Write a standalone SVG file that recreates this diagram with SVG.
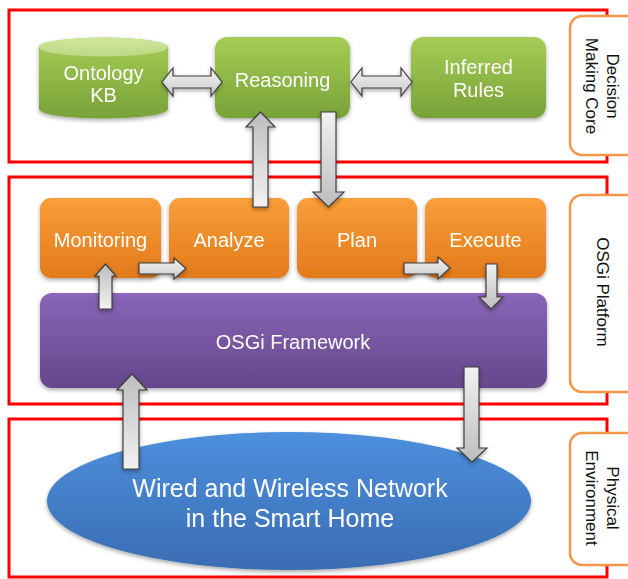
<svg xmlns="http://www.w3.org/2000/svg" width="628" height="579" viewBox="0 0 628 579">
  <style>
    .layer { fill: none; stroke: #ff0000; stroke-width: 3; }
    .tag { fill: #ffffff; stroke: #f79646; stroke-width: 2.5; }
    .tagtext { font-family: "Liberation Sans", Arial, sans-serif; font-size: 17px; fill: #111111; text-anchor: middle; }
    .lbl { font-family: "Liberation Sans", Arial, sans-serif; font-size: 20px; fill: #ffffff; text-anchor: middle; }
    .big { font-family: "Liberation Sans", Arial, sans-serif; font-size: 25px; fill: #ffffff; text-anchor: middle; }
    .arrow { stroke: #3f3f3f; stroke-width: 1.2; stroke-linejoin: miter; }
  </style>
  <defs>
    <linearGradient id="gGreen" x1="0" y1="0" x2="0" y2="1">
      <stop offset="0" stop-color="#a6cd55"/>
      <stop offset="1" stop-color="#78a238"/>
    </linearGradient>
    <linearGradient id="gGreenTop" x1="0" y1="0" x2="0" y2="1">
      <stop offset="0" stop-color="#cfe69c"/>
      <stop offset="1" stop-color="#bcd985"/>
    </linearGradient>
    <linearGradient id="gOrange" x1="0" y1="0" x2="0" y2="1">
      <stop offset="0" stop-color="#fa9e38"/>
      <stop offset="1" stop-color="#e27a1c"/>
    </linearGradient>
    <linearGradient id="gPurple" x1="0" y1="0" x2="0" y2="1">
      <stop offset="0" stop-color="#8e69bd"/>
      <stop offset="0.05" stop-color="#8763b5"/>
      <stop offset="1" stop-color="#65488c"/>
    </linearGradient>
    <linearGradient id="gBlue" x1="0" y1="0" x2="0" y2="1">
      <stop offset="0" stop-color="#4d90de"/>
      <stop offset="1" stop-color="#3a6cb2"/>
    </linearGradient>
    <linearGradient id="gUp" x1="0" y1="1" x2="0" y2="0">
      <stop offset="0" stop-color="#f2f2f2"/>
      <stop offset="1" stop-color="#bdbdbd"/>
    </linearGradient>
    <linearGradient id="gDown" x1="0" y1="0" x2="0" y2="1">
      <stop offset="0" stop-color="#f2f2f2"/>
      <stop offset="1" stop-color="#bdbdbd"/>
    </linearGradient>
    <linearGradient id="gRight" x1="0" y1="0" x2="0" y2="1">
      <stop offset="0" stop-color="#f4f4f4"/>
      <stop offset="1" stop-color="#c8c8c8"/>
    </linearGradient>
    <filter id="shadow" x="-10%" y="-10%" width="120%" height="130%">
      <feGaussianBlur in="SourceAlpha" stdDeviation="2"/>
      <feOffset dy="2" result="b"/>
      <feComponentTransfer><feFuncA type="linear" slope="0.35"/></feComponentTransfer>
      <feMerge><feMergeNode/><feMergeNode in="SourceGraphic"/></feMerge>
    </filter>
  </defs>

  <rect width="628" height="579" fill="#ffffff"/>

  <!-- layer frames -->
  <g id="layers">
    <rect class="layer" x="9" y="10" width="598" height="152"/>
    <rect class="layer" x="9" y="177" width="598" height="227"/>
    <rect class="layer" x="9" y="419" width="598" height="158"/>
  </g>

  <!-- layer tags -->
  <g id="tag-decision">
    <rect class="tag" x="570" y="16" width="80" height="139" rx="12"/>
    <text class="tagtext" transform="translate(602,86) rotate(90)"><tspan x="0" y="-5">Decision</tspan><tspan x="0" y="16">Making Core</tspan></text>
  </g>
  <g id="tag-osgi">
    <rect class="tag" x="570" y="195" width="80" height="197" rx="12"/>
    <text class="tagtext" transform="translate(602,292) rotate(90)" x="0" y="5">OSGi Platform</text>
  </g>
  <g id="tag-physical">
    <rect class="tag" x="570" y="433" width="80" height="132" rx="12"/>
    <text class="tagtext" transform="translate(602,498) rotate(90)"><tspan x="0" y="-5">Physical</tspan><tspan x="0" y="16">Environment</tspan></text>
  </g>

  <!-- decision making core -->
  <g id="ontology-kb" filter="url(#shadow)">
    <path d="M39,47 L39,109 A64.5,9.5 0 0 0 168,109 L168,47 A64.5,9.5 0 0 0 39,47 Z" fill="url(#gGreen)"/>
    <ellipse cx="103.5" cy="47" rx="64.5" ry="9.5" fill="url(#gGreenTop)"/>
    <text class="lbl" x="103.5" y="80">Ontology</text>
    <text class="lbl" x="103.5" y="102">KB</text>
  </g>
  <g id="reasoning" filter="url(#shadow)">
    <rect x="215" y="37" width="135" height="81" rx="12" fill="url(#gGreen)"/>
    <text class="lbl" x="282.5" y="87">Reasoning</text>
  </g>
  <g id="inferred-rules" filter="url(#shadow)">
    <rect x="411" y="37" width="135" height="81" rx="12" fill="url(#gGreen)"/>
    <text class="lbl" x="478.5" y="74">Inferred</text>
    <text class="lbl" x="478.5" y="97">Rules</text>
  </g>

  <!-- MAPE loop -->
  <g id="monitoring" filter="url(#shadow)">
    <rect x="40" y="198" width="121" height="80" rx="11" fill="url(#gOrange)"/>
    <text class="lbl" x="100.5" y="247">Monitoring</text>
  </g>
  <g id="analyze" filter="url(#shadow)">
    <rect x="169" y="198" width="120" height="80" rx="11" fill="url(#gOrange)"/>
    <text class="lbl" x="229" y="247">Analyze</text>
  </g>
  <g id="plan" filter="url(#shadow)">
    <rect x="297" y="198" width="120" height="80" rx="11" fill="url(#gOrange)"/>
    <text class="lbl" x="357" y="247">Plan</text>
  </g>
  <g id="execute" filter="url(#shadow)">
    <rect x="425" y="198" width="121" height="80" rx="11" fill="url(#gOrange)"/>
    <text class="lbl" x="485.5" y="247">Execute</text>
  </g>

  <g id="osgi-framework" filter="url(#shadow)">
    <rect x="40" y="293" width="507" height="95" rx="12" fill="url(#gPurple)"/>
    <text class="lbl" x="293" y="349">OSGi Framework</text>
  </g>

  <g id="network" filter="url(#shadow)">
    <ellipse cx="289" cy="501" rx="242" ry="69" fill="url(#gBlue)"/>
    <text class="big" x="290" y="497">Wired and Wireless Network</text>
    <text class="big" x="290" y="527">in the Smart Home</text>
  </g>

  <!-- connectors -->
  <g id="connectors" filter="url(#shadow)">
    <polygon class="arrow" fill="url(#gRight)" points="162,82 173,68 173,76 211,76 211,68 222,82 211,96 211,88 173,88 173,96"/>
    <polygon class="arrow" fill="url(#gRight)" points="351,82 362,68 362,76 401,76 401,68 412,82 401,96 401,88 362,88 362,96"/>
    <polygon class="arrow" fill="url(#gUp)" points="260.5,112 275,127 268,127 268,207 253,207 253,127 246,127"/>
    <polygon class="arrow" fill="url(#gDown)" points="321,112 336,112 336,192 344,192 328.5,207 313,192 321,192"/>
    <polygon class="arrow" fill="url(#gRight)" points="139,263 174,263 174,258 186,268.5 174,279 174,274 139,274"/>
    <polygon class="arrow" fill="url(#gRight)" points="404,263 438,263 438,257 450,268 438,279 438,274 404,274"/>
    <polygon class="arrow" fill="url(#gUp)" points="105.5,264 116,276 112,276 112,309 99,309 99,276 95,276"/>
    <polygon class="arrow" fill="url(#gDown)" points="486,264 497,264 497,297 503,297 491,309 479,297 486,297"/>
    <polygon class="arrow" fill="url(#gUp)" points="132,374 147,390 139,390 139,469 123,469 123,390 117,390"/>
    <polygon class="arrow" fill="url(#gDown)" points="464,367 479,367 479,448 487,448 472,462 457,448 464,448"/>
  </g>
</svg>
